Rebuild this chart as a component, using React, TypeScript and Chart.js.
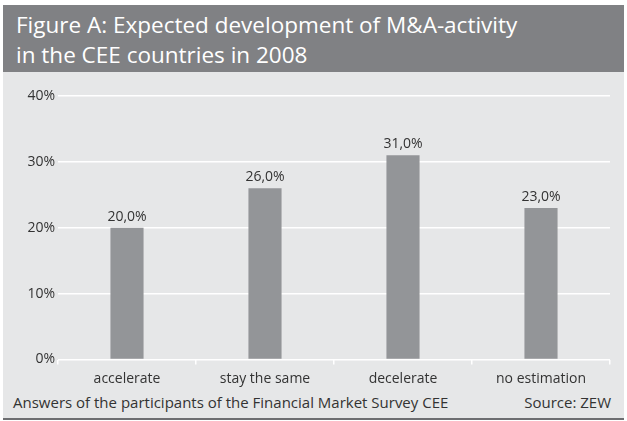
import React, { useEffect, useRef } from "react";
import { Chart, registerables } from "chart.js";

Chart.register(...registerables);

const categories = ["accelerate", "stay the same", "decelerate", "no estimation"];
const values = [20.0, 26.0, 31.0, 23.0];
const yMin = 0;
const yMax = 40;
const yStep = 10;
const titleLines = ["Figure A: Expected development of M&A-activity", "in the CEE countries in 2008"];
const footnote = "Answers of the participants of the Financial Market Survey CEE";
const source = "Source: ZEW";

const FONT = '"Open Sans", sans-serif';
const TEXT = "#333333";
const BAR = "#939598";
const BG = "#e6e7e8";
const HEAD = "#808184";

const fmt = (v: number) => v.toFixed(1).replace(".", ",") + "%";

const valueLabels = {
  id: "valueLabels",
  afterDatasetsDraw(chart: any) {
    const ctx = chart.ctx;
    const meta = chart.getDatasetMeta(0);
    ctx.save();
    ctx.font = `14px ${FONT}`;
    ctx.fillStyle = TEXT;
    ctx.textAlign = "center";
    ctx.textBaseline = "alphabetic";
    meta.data.forEach((el: any, i: number) => {
      ctx.fillText(fmt(values[i]), el.x, el.y - 7);
    });
    ctx.restore();
  },
};

export default function App() {
  const ref = useRef<HTMLCanvasElement>(null);

  useEffect(() => {
    document.body.style.margin = "0";
    const chart = new Chart(ref.current!, {
      type: "bar",
      data: {
        labels: categories,
        datasets: [
          {
            data: values,
            backgroundColor: BAR,
            borderWidth: 0,
            barPercentage: 0.24,
            categoryPercentage: 1,
          },
        ],
      },
      options: {
        responsive: false,
        animation: false,
        devicePixelRatio: 1,
        layout: { padding: { top: 24, right: 14, left: 0, bottom: 0 } },
        plugins: {
          legend: { display: false },
          tooltip: { enabled: false },
          title: { display: false },
        },
        scales: {
          x: {
            offset: true,
            border: { display: false },
            grid: {
              offset: true,
              drawOnChartArea: false,
              drawTicks: true,
              tickLength: 5,
              color: "#ffffff",
              lineWidth: 1.5,
            },
            ticks: {
              color: TEXT,
              font: { family: FONT, size: 14 },
              padding: 6,
              maxRotation: 0,
            },
            afterFit: (s: any) => {
              s.height = 32.5;
            },
          },
          y: {
            min: yMin,
            max: yMax,
            border: { display: false },
            grid: {
              color: "#ffffff",
              lineWidth: 1.5,
              drawTicks: false,
            },
            ticks: {
              stepSize: yStep,
              color: TEXT,
              font: { family: FONT, size: 14 },
              padding: 3,
              callback: (v: any) => v + "%",
            },
            afterFit: (s: any) => {
              s.width = 55;
            },
          },
        },
      },
      plugins: [valueLabels],
    });
    return () => chart.destroy();
  }, []);

  return (
    <div style={{ position: "absolute", left: 0, top: 0, width: 627, height: 421, background: "#ffffff", fontFamily: FONT }}>
      <div style={{ position: "absolute", left: 3, top: 5, width: 621, height: 414, background: BG }} />
      <div
        style={{
          position: "absolute",
          left: 3,
          top: 5,
          width: 621,
          height: 67,
          background: HEAD,
          color: "#ffffff",
          fontSize: 22.5,
          lineHeight: "30px",
          paddingLeft: 13,
          paddingTop: 5,
          boxSizing: "border-box",
          fontWeight: 400,
          whiteSpace: "nowrap",
        }}
      >
        {titleLines.map((t, i) => (
          <div key={i}>{t}</div>
        ))}
      </div>
      <canvas ref={ref} width={621} height={320} style={{ position: "absolute", left: 3, top: 72, width: 621, height: 320 }} />
      <div
        style={{
          position: "absolute",
          left: 13,
          top: 392,
          width: 598,
          display: "flex",
          justifyContent: "space-between",
          fontSize: 15,
          lineHeight: "20px",
          color: TEXT,
          whiteSpace: "nowrap",
        }}
      >
        <span>{footnote}</span>
        <span>{source}</span>
      </div>
      <div style={{ position: "absolute", left: 3, top: 418, width: 621, height: 2, background: "#6d6e71" }} />
    </div>
  );
}
